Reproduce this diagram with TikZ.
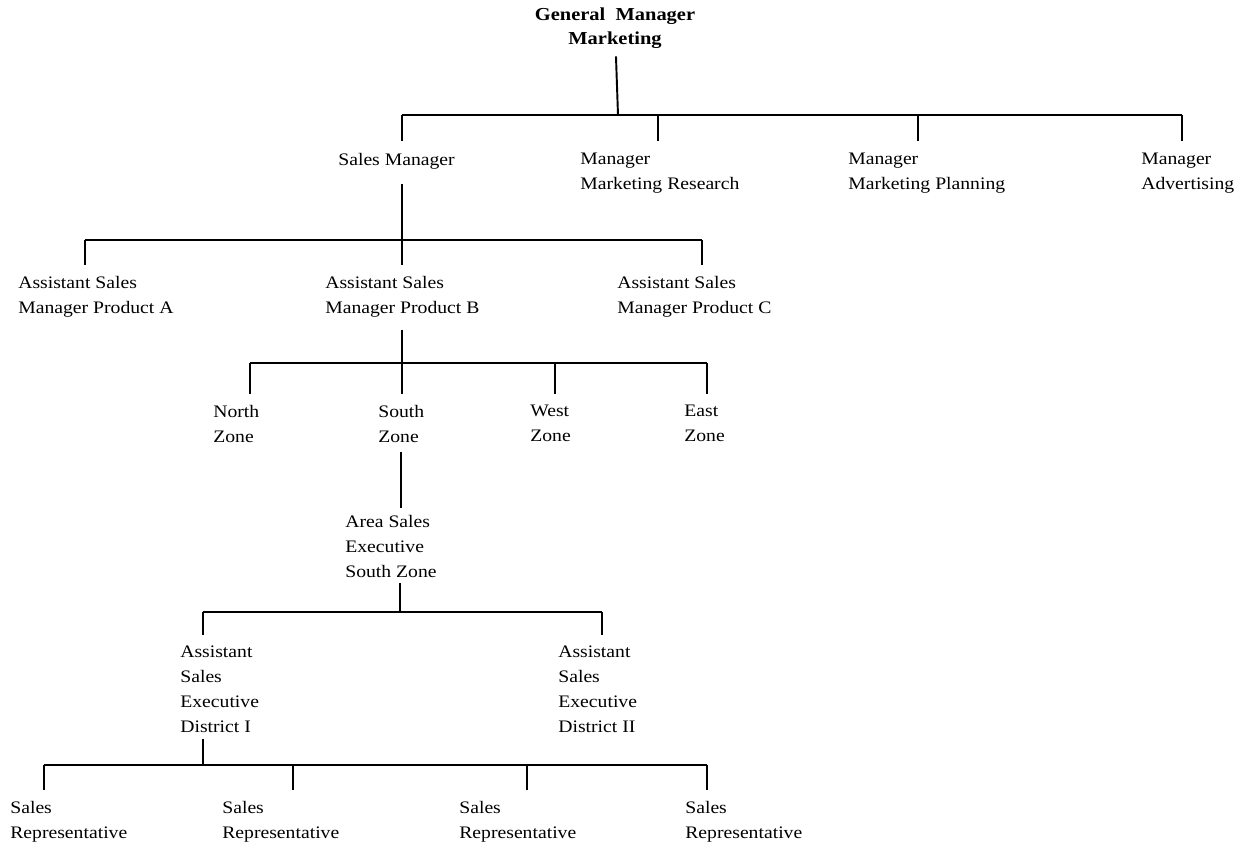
\documentclass[tikz,border=0pt]{standalone}
\usepackage{fontspec}
\setmainfont[FakeStretch=1.12]{Liberation Serif}

\tikzset{
  post/.style={align=left, anchor=north west, inner sep=0pt,
    font=\fontsize{10}{14.2}\selectfont},
  link/.style={line width=1.1pt},
}

\begin{document}
\begin{tikzpicture}[x=0.02cm, y=-0.02cm]
        \useasboundingbox (0,0) rectangle (1238,845);
        %\draw[step=50,gray,very thin] (0,0) grid (1238,845);

        \node[post, anchor=north, align=center, font=\fontsize{10.4}{14.2}\selectfont\bfseries] (gm) at (615,7) {General\ \ Manager\\Marketing};

        \node[post] (sm) at (338,153) {Sales Manager};
        \node[post] (mmr) at (580,153) {Manager\\Marketing Research};
        \node[post] (mmp) at (848,153) {Manager\\Marketing Planning};
        \node[post] (adv) at (1141,153) {Manager\\Advertising};

        \node[post] (asmA) at (18,276) {Assistant Sales\\Manager Product A};
        \node[post] (asmB) at (325,276) {Assistant Sales\\Manager Product B};
        \node[post] (asmC) at (617,276) {Assistant Sales\\Manager Product C};

        \node[post] (nz) at (213,405) {North\\Zone};
        \node[post] (sz) at (378,405) {South\\Zone};
        \node[post] (wz) at (530,405) {West\\Zone};
        \node[post] (ez) at (684,405) {East\\Zone};

        \node[post] (ase) at (345,515) {Area Sales\\Executive\\South Zone};

        \node[post] (asd1) at (180,646) {Assistant\\Sales\\Executive\\District I};
        \node[post] (asd2) at (558,646) {Assistant\\Sales\\Executive\\District II};

        \node[post] (sr1) at (10,801) {Sales\\Representative};
        \node[post] (sr2) at (222,801) {Sales\\Representative};
        \node[post] (sr3) at (459,801) {Sales\\Representative};
        \node[post] (sr4) at (685,801) {Sales\\Representative};

        % general manager
        \coordinate (j1) at (618,115);
        \coordinate (d-sm) at (402,115);
        \coordinate (d-mmr) at (658,115);
        \coordinate (d-mmp) at (918,115);
        \coordinate (d-adv) at (1182,115);
        \draw[link, shorten <=4pt] (gm) -- (j1);
        \draw[link] (d-sm) -- (d-adv);
        \foreach \n in {sm,mmr,mmp,adv}
            \draw[link, shorten >=7pt] (d-\n) -- (d-\n |- \n.north);

        % sales manager
        \coordinate (j2) at (402,240);
        \coordinate (d-asmA) at (85,240);
        \coordinate (d-asmB) at (402,240);
        \coordinate (d-asmC) at (702,240);
        \draw[link, shorten <=8pt] (j2 |- sm.south) -- (j2);
        \draw[link] (d-asmA) -- (d-asmC);
        \foreach \n in {asmA,asmB,asmC}
            \draw[link, shorten >=6pt] (d-\n) -- (d-\n |- \n.north);

        % product B
        \coordinate (j3) at (402,363);
        \coordinate (d-nz) at (250,363);
        \coordinate (d-sz) at (402,363);
        \coordinate (d-wz) at (555,363);
        \coordinate (d-ez) at (707,363);
        \draw[link, shorten <=7pt] (j3 |- asmB.south) -- (j3);
        \draw[link] (d-nz) -- (d-ez);
        \foreach \n in {nz,sz,wz,ez}
            \draw[link, shorten >=6pt] (d-\n) -- (d-\n |- \n.north);

        % south zone
        \coordinate (j4) at (401,455);
        \draw[link, shorten <=5pt, shorten >=4pt] (j4 |- sz.south) -- (j4 |- ase.north);

        \coordinate (j5) at (400,612);
        \coordinate (d-asd1) at (203,612);
        \coordinate (d-asd2) at (602,612);
        \draw[link, shorten <=3pt] (j5 |- ase.south) -- (j5);
        \draw[link] (d-asd1) -- (d-asd2);
        \foreach \n in {asd1,asd2}
            \draw[link, shorten >=6pt] (d-\n) -- (d-\n |- \n.north);

        % district I
        \coordinate (j6) at (203,765);
        \coordinate (d-sr1) at (44,765);
        \coordinate (d-sr2) at (293,765);
        \coordinate (d-sr3) at (527,765);
        \coordinate (d-sr4) at (707,765);
        \draw[link, shorten <=3pt] (j6 |- asd1.south) -- (j6);
        \draw[link] (d-sr1) -- (d-sr4);
        \foreach \n in {sr1,sr2,sr3,sr4}
            \draw[link, shorten >=6pt] (d-\n) -- (d-\n |- \n.north);
\end{tikzpicture}
\end{document}
